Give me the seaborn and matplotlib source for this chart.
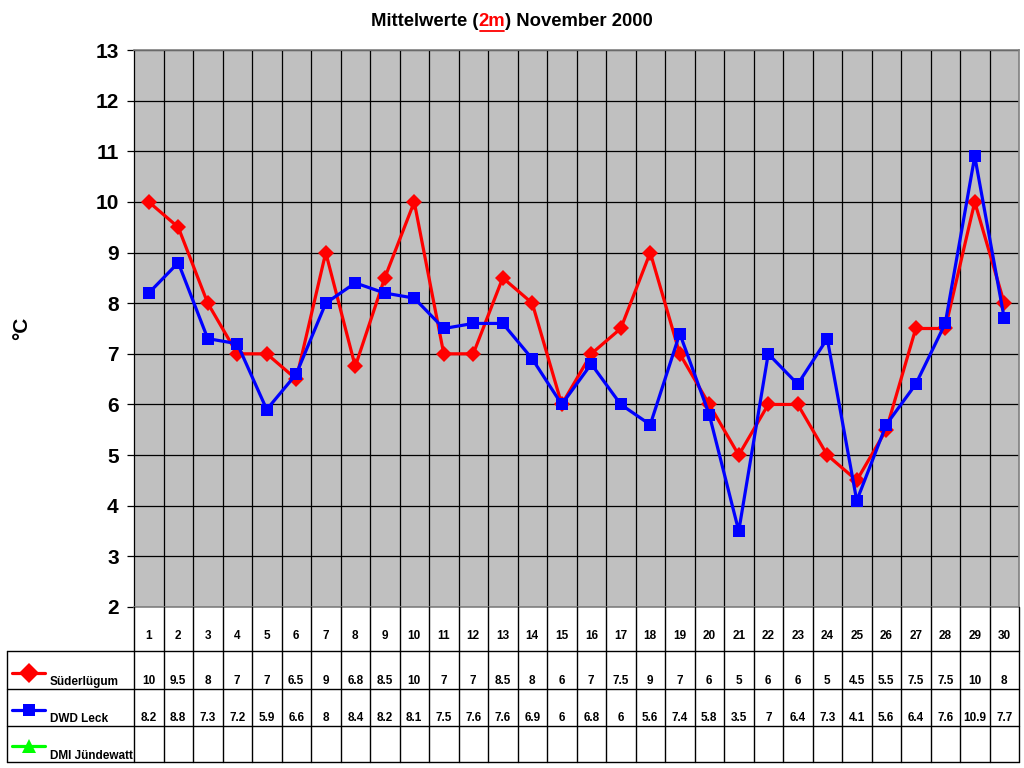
import numpy as np
import pandas as pd
import matplotlib
matplotlib.use("Agg")
import matplotlib.pyplot as plt
from matplotlib.lines import Line2D
import seaborn as sns

days = list(range(1, 31))
suederluegum = [10, 9.5, 8, 7, 7, 6.5, 9, 6.75, 8.5, 10, 7, 7, 8.5, 8, 6, 7, 7.5, 9, 7, 6,
                5, 6, 6, 5, 4.5, 5.5, 7.5, 7.5, 10, 8]
dwd_leck = [8.2, 8.8, 7.3, 7.2, 5.9, 6.6, 8, 8.4, 8.2, 8.1, 7.5, 7.6, 7.6, 6.9, 6, 6.8, 6, 5.6,
            7.4, 5.8, 3.5, 7, 6.4, 7.3, 4.1, 5.6, 6.4, 7.6, 10.9, 7.7]
dmi_juendewatt = [None] * 30
series_names = ["Süderlügum", "DWD Leck", "DMI Jündewatt"]
series_colors = ["#FF0000", "#0000FF", "#00FF00"]
series_markers = ["D", "s", "^"]
yticks = list(range(2, 14))

sns.set_theme(style="white")
plt.rcParams['font.family'] = ['Liberation Sans', 'DejaVu Sans']
plt.rcParams['font.weight'] = 'bold'
plt.rcParams['text.color'] = 'black'
plt.rcParams['axes.labelcolor'] = 'black'
plt.rcParams['ytick.color'] = 'black'
plt.rcParams['xtick.color'] = 'black'

W, H = 1024, 768
fig = plt.figure(figsize=(W / 100, H / 100), dpi=100)

def fx(x):
    return x / W

def fy(y):
    return 1 - y / H

L, R, T, B = 134, 1019, 50, 607
ax = fig.add_axes([fx(L), fy(B), fx(R) - fx(L), fy(T) - fy(B)])
ax.set_facecolor("#C0C0C0")

df = pd.DataFrame({"Tag": days, series_names[0]: suederluegum, series_names[1]: dwd_leck})
sns.lineplot(data=df, x="Tag", y=series_names[0], ax=ax, color=series_colors[0],
             marker="D", markersize=8, markeredgewidth=0, linewidth=2.3, zorder=3)
sns.lineplot(data=df, x="Tag", y=series_names[1], ax=ax, color=series_colors[1],
             marker="s", markersize=9, markeredgewidth=0, linewidth=2.3, zorder=4)

ax.set_xlim(0.5, 30.5)
ax.set_ylim(2, 13)
ax.set_yticks(yticks)
ax.set_yticklabels([str(v) for v in yticks], fontsize=15, fontweight="bold", color="black")
ax.set_xticks([])
ax.set_xlabel("")
ax.set_ylabel("")
for v in yticks:
    ax.axhline(v, color="black", linewidth=0.9, zorder=1)
for k in range(1, 30):
    ax.axvline(0.5 + k, color="black", linewidth=0.9, zorder=1)
ax.tick_params(axis="y", left=True, length=5, width=0.9, color="black", pad=6)
for s in ["top", "right", "bottom"]:
    ax.spines[s].set_color("#808080")
    ax.spines[s].set_linewidth(1.2)
ax.spines["left"].set_color("black")
ax.spines["left"].set_linewidth(0.9)

fig.text(fx(22), fy(328), "°C", rotation=90, fontsize=15, fontweight="bold",
         ha="center", va="center", color="black")

# Title in three parts
fig.canvas.draw()
renderer = fig.canvas.get_renderer()
parts = [("Mittelwerte (", "black", False), ("2m", "#FF0000", True), (") November 2000", "black", False)]
texts = []
widths = []
for s, c, u in parts:
    t = fig.text(0, fy(21), s, fontsize=13.3, fontweight="bold", color=c, ha="left", va="center")
    texts.append(t)
    widths.append(t.get_window_extent(renderer).width)
total = sum(widths)
x = 512 - total / 2
for t, w, (s, c, u) in zip(texts, widths, parts):
    t.set_x(fx(x))
    if u:
        fig.add_artist(Line2D([fx(x + 1), fx(x + w - 1)], [fy(30.5), fy(30.5)], color=c, linewidth=1.3))
    x += w

# Data table
colw = (R - L) / 30
rows = [607, 651, 689, 726, 762]
lc = "black"
lw = 1.0
for k in range(31):
    xx = L + k * colw
    fig.add_artist(Line2D([fx(xx), fx(xx)], [fy(rows[0]), fy(rows[-1])], color=lc, linewidth=lw))
for r in rows[1:]:
    fig.add_artist(Line2D([fx(7), fx(R)], [fy(r), fy(r)], color=lc, linewidth=lw))
fig.add_artist(Line2D([fx(7), fx(7)], [fy(rows[1]), fy(rows[4])], color=lc, linewidth=lw))

def fmt(v):
    if v is None:
        return ""
    r = round(v, 1)
    return str(int(r)) if r == int(r) else f"{r:.1f}"

tfs = 8.5
for k, d in enumerate(days):
    cx = L + (k + 0.5) * colw
    fig.text(fx(cx), fy(636), str(d), fontsize=tfs, fontweight="bold", ha="center", va="center")
    fig.text(fx(cx), fy(681), fmt(suederluegum[k]), fontsize=tfs, fontweight="bold", ha="center", va="center")
    fig.text(fx(cx), fy(718), fmt(dwd_leck[k]), fontsize=tfs, fontweight="bold", ha="center", va="center")
    fig.text(fx(cx), fy(755), fmt(dmi_juendewatt[k]), fontsize=tfs, fontweight="bold", ha="center", va="center")

leg_y = [673, 710, 746]
lab_y = [682, 719, 756]
for name, col, mk, ly, ty in zip(series_names, series_colors, series_markers, leg_y, lab_y):
    fig.add_artist(Line2D([fx(12), fx(28.5), fx(45)], [fy(ly)] * 3, color=col,
                          linewidth=2.3, marker=mk, markevery=[1],
                          markersize=10 if mk != "s" else 9, markeredgewidth=0))
    fig.text(fx(50), fy(ty), name, fontsize=tfs, fontweight="bold", ha="left", va="center")

fig.savefig("out.png", dpi=100, facecolor="white")
